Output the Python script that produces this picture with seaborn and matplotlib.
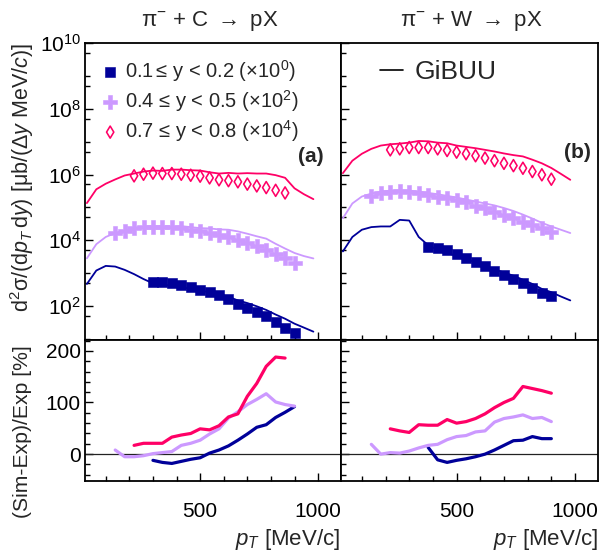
import numpy as np
import pandas as pd
import matplotlib
matplotlib.use("Agg")
import matplotlib.pyplot as plt
import seaborn as sns
from matplotlib.lines import Line2D
from matplotlib.ticker import FixedLocator, NullFormatter, FuncFormatter, MultipleLocator

sns.set_theme(style="ticks")
plt.rcParams["font.family"] = ["Liberation Sans", "DejaVu Sans"]
plt.rcParams["mathtext.fontset"] = "custom"
plt.rcParams["mathtext.rm"] = "Liberation Sans"
plt.rcParams["mathtext.it"] = "Liberation Sans:italic"
plt.rcParams["mathtext.bf"] = "Liberation Sans:bold"

NAVY = "#000099"
LILAC = "#cc99ff"
PINK = "#ff0066"

# ---------------------------------------------------------------- data
# rapidity bins and the factors used to separate them vertically
bin_labels = ["0.1$\\,$≤ y < 0.2 (×10$^{0}$)",
              "0.4 ≤ y < 0.5 (×10$^{2}$)",
              "0.7 ≤ y < 0.8 (×10$^{4}$)"]
bin_scale = [1.0, 1e2, 1e4]

# transverse momentum grid of the GiBUU calculation [MeV/c]
pt_sim = [20, 60, 100, 140, 180, 220, 260, 300, 340, 380, 420, 460, 500,
          540, 580, 620, 660, 700, 740, 780, 820, 860, 900, 940, 980]

# pi- + C -> pX : measured d2sigma/(dpT dy) [ub/(dy MeV/c)]
pt_C_y1 = [300, 340, 380, 420, 460, 500, 540, 580, 620, 660, 700, 740, 780,
           820, 860, 900]
xs_C_y1 = [556, 537, 501, 437, 372, 309, 263, 214, 166, 118, 89, 65, 48,
           32, 22, 15]
pt_C_y4 = [140, 180, 220, 260, 300, 340, 380, 420, 460, 500, 540, 580, 620,
           660, 700, 740, 780, 820, 860, 900]
xs_C_y4 = [166, 195, 229, 251, 257, 257, 245, 229, 209, 186, 166, 145, 123,
           102, 81, 65, 51, 39, 29, 21]
pt_C_y7 = [220, 260, 300, 340, 380, 420, 460, 500, 540, 580, 620, 660, 700,
           740, 780, 820, 860]
xs_C_y7 = [91, 102, 110, 107, 107, 102, 95, 89, 79, 69, 65, 60, 51, 45,
           40, 33, 27.5]

# pi- + C -> pX : GiBUU
sim_C_y1 = [468, 1202, 1660, 1585, 1259, 933, 661, 490, 452, 407, 372, 331,
            288, 269, 229, 191, 148, 123, 98, 76, 55, 41, 29, 22, 16.6]
sim_C_y4 = [28.2, 75.9, 126, 166, 186, 219, 245, 257, 263, 257, 269, 251,
            234, 229, 214, 209, 186, 158, 132, 112, 78, 56, 41, 33, 28]
sim_C_y7 = [13.5, 35.5, 52.5, 70.8, 93.3, 107, 123, 132, 129, 141, 141, 135,
            132, 117, 107, 112, 107, 110, 107, 107, 95.5, 79.4, 38, 25.1, 17.8]

# pi- + C -> pX : (Sim-Exp)/Exp [%]
rel_C_y1 = [-12, -16, -18, -14, -10, -7, 2, 8, 16, 27, 39, 52, 57, 71, 81, 92]
rel_C_y4 = [8, -5, -5, -3, 1, 3, 5, 17, 21, 27, 39, 49, 70, 82, 96, 106,
            117, 101, 96, 93]
rel_C_y7 = [17, 21, 21, 21, 33, 37, 40, 49, 47, 55, 72, 78, 112, 137, 170,
            188, 186]

# pi- + W -> pX : measured
pt_W_y1 = [380, 420, 460, 500, 540, 580, 620, 660, 700, 740, 780, 820, 860,
           900]
xs_W_y1 = [6026, 5754, 4898, 3890, 2884, 2239, 1660, 1202, 891, 661, 501,
           347, 257, 204]
pt_W_y4 = [140, 180, 220, 260, 300, 340, 380, 420, 460, 500, 540, 580, 620,
           660, 700, 740, 780, 820, 860, 900]
xs_W_y4 = [2239, 2692, 3020, 3162, 2951, 2692, 2399, 2138, 1905, 1622, 1413,
           1122, 955, 741, 589, 468, 372, 295, 234, 182]
pt_W_y7 = [220, 260, 300, 340, 380, 420, 460, 500, 540, 580, 620, 660, 700,
           740, 780, 820, 860, 900]
xs_W_y7 = [562, 603, 661, 661, 661, 603, 537, 479, 427, 372, 316, 263, 219,
           186, 155, 123, 98, 72]

# pi- + W -> pX : GiBUU
sim_W_y1 = [4571, 12589, 20893, 25119, 26303, 26303, 41687, 39811, 12589,
            7079, 5129, 4074, 3388, 2630, 2138, 1660, 1288, 1047, 832, 631,
            468, 331, 263, 195, 148]
sim_W_y4 = [468, 1318, 2138, 2630, 3020, 3236, 3311, 3236, 3020, 2754, 2512,
            2239, 1995, 1738, 1514, 1318, 1148, 955, 776, 603, 457, 339, 263,
            209, 166]
sim_W_y7 = [110, 263, 427, 603, 759, 832, 871, 933, 1047, 1023, 933, 891,
            759, 692, 631, 562, 501, 437, 389, 355, 282, 219, 158, 105, 69]

# pi- + W -> pX : (Sim-Exp)/Exp [%]
rel_W_y1 = [13, -11, -16, -12, -9, -5, 0, 8, 17, 26, 27, 34, 30, 30]
rel_W_y4 = [19, 0, 3, 2, 6, 12, 17, 19, 28, 34, 36, 43, 45, 62, 69, 72, 76,
            69, 71, 63]
rel_W_y7 = [49, 45, 42, 57, 56, 56, 67, 60, 63, 69, 78, 90, 100, 108, 131,
            127, 123, 118]

# ---------------------------------------------------------------- styles
colors = [NAVY, LILAC, PINK]
marker_kw = [
    dict(marker="s", s=58, color=NAVY, edgecolor=NAVY, linewidth=0.4),
    dict(marker="P", s=95, color=LILAC, edgecolor=LILAC, linewidth=0.4),
    dict(marker="d", s=38, color=PINK, facecolor="none", edgecolor=PINK,
         linewidth=1.15),
]

W, H = 602, 554
fig = plt.figure(figsize=(W / 100, H / 100), dpi=100)


def box(x0, y0, x1, y1):
    return [x0 / W, 1 - y1 / H, (x1 - x0) / W, (y1 - y0) / H]


ax_lt = fig.add_axes(box(85, 43, 341, 340))
ax_lb = fig.add_axes(box(85, 340, 341, 481))
ax_rt = fig.add_axes(box(341, 43, 598, 340))
ax_rb = fig.add_axes(box(341, 340, 598, 481))

XLIM = (12, 1097)


def style_axes(ax_top, ax_bot, show_labels):
    ax_top.set_yscale("log")
    for ax in (ax_top, ax_bot):
        ax.set_xlim(*XLIM)
        ax.xaxis.set_major_locator(FixedLocator([500, 1000]))
        ax.xaxis.set_minor_locator(MultipleLocator(100))
        ax.tick_params(axis="both", which="both", direction="in",
                       top=False, right=False, width=1.0, color="black",
                       labelsize=15, labelcolor="black")
        ax.tick_params(axis="both", which="major", length=6)
        ax.tick_params(axis="both", which="minor", length=3.6)
        for sp in ax.spines.values():
            sp.set_linewidth(1.3)
            sp.set_color("black")
        ax.set_xlabel("")
        ax.set_ylabel("")
    ax_top.set_ylim(9.25, 1e10)
    ax_top.yaxis.set_major_locator(FixedLocator([1e2, 1e4, 1e6, 1e8, 1e10]))
    ax_top.yaxis.set_minor_locator(FixedLocator(
        [10.0 ** k for k in (1, 3, 5, 7, 9)] +
        [5 * 10.0 ** k for k in range(0, 10)]))
    ax_top.yaxis.set_minor_formatter(NullFormatter())
    ax_top.yaxis.set_major_formatter(FuncFormatter(
        lambda v, p: "10$^{%d}$" % int(round(np.log10(v)))))
    ax_top.tick_params(axis="x", labelbottom=False)
    ax_bot.set_ylim(-52, 221)
    ax_bot.yaxis.set_major_locator(FixedLocator([0, 100, 200]))
    ax_bot.yaxis.set_minor_locator(MultipleLocator(20))
    ax_bot.tick_params(axis="x", which="major", pad=15)
    ax_top.tick_params(axis="y", which="major", pad=3)
    ax_bot.tick_params(axis="y", which="major", pad=3)
    if not show_labels:
        ax_top.tick_params(axis="y", labelleft=False)
        ax_bot.tick_params(axis="y", labelleft=False)


def draw(ax_top, ax_bot, exp_pt, exp_xs, sims, rels, with_labels):
    ax_top.set_yscale("log")
    for i in range(3):
        df_sim = pd.DataFrame({"pt": pt_sim,
                               "xs": np.asarray(sims[i]) * bin_scale[i]})
        sns.lineplot(data=df_sim, x="pt", y="xs", ax=ax_top, color=colors[i],
                     linewidth=1.3, legend=False, zorder=2)
    for i in range(3):
        df_exp = pd.DataFrame({"pt": exp_pt[i],
                               "xs": np.asarray(exp_xs[i]) * bin_scale[i]})
        kw = dict(marker_kw[i])
        if with_labels:
            kw["label"] = bin_labels[i]
        sns.scatterplot(data=df_exp, x="pt", y="xs", ax=ax_top, zorder=3,
                        legend=False, **kw)
    ax_bot.axhline(0, color="#222222", linewidth=0.9, zorder=1)
    for i in range(3):
        df_rel = pd.DataFrame({"pt": exp_pt[i], "rel": rels[i]})
        sns.lineplot(data=df_rel, x="pt", y="rel", ax=ax_bot, color=colors[i],
                     linewidth=2.3, legend=False, zorder=2)


draw(ax_lt, ax_lb, [pt_C_y1, pt_C_y4, pt_C_y7], [xs_C_y1, xs_C_y4, xs_C_y7],
     [sim_C_y1, sim_C_y4, sim_C_y7], [rel_C_y1, rel_C_y4, rel_C_y7], True)
draw(ax_rt, ax_rb, [pt_W_y1, pt_W_y4, pt_W_y7], [xs_W_y1, xs_W_y4, xs_W_y7],
     [sim_W_y1, sim_W_y4, sim_W_y7], [rel_W_y1, rel_W_y4, rel_W_y7], False)

style_axes(ax_lt, ax_lb, True)
style_axes(ax_rt, ax_rb, False)

# legends
h, l = ax_lt.get_legend_handles_labels()
ax_lt.legend(h, l, loc="upper left", bbox_to_anchor=(0.059, 0.95),
             frameon=False, fontsize=14.5, handlelength=1.0,
             handletextpad=0.25, labelspacing=0.2, borderaxespad=0,
             borderpad=0, scatterpoints=1)
ax_rt.legend([Line2D([], [], color="black", linewidth=1.2)], ["GiBUU"],
             loc="upper left", bbox_to_anchor=(0.152, 0.942), frameon=False,
             fontsize=19, handlelength=0.87, handletextpad=0.45,
             borderaxespad=0, borderpad=0)

# panel tags and titles
ax_lt.text(311 / W, 1 - 156 / H, "(a)", transform=fig.transFigure,
           ha="center", va="center", fontsize=15, fontweight="bold")
ax_rt.text(577 / W, 1 - 152 / H, "(b)", transform=fig.transFigure,
           ha="center", va="center", fontsize=15, fontweight="bold")
fig.text(210 / W, 1 - 21 / H, "π$^{-}$ + C $\\rightarrow$ pX", ha="center",
         va="center", fontsize=16)
fig.text(471 / W, 1 - 21 / H, "π$^{-}$ + W $\\rightarrow$ pX", ha="center",
         va="center", fontsize=16)

# axis titles
fig.text(22 / W, 1 - 43 / H,
         "d$^{2}$σ/(d$p_{T}\\,$d$y$) [μb/(Δ$y$ MeV/$c$)]",
         rotation=90, ha="center", va="top", fontsize=15.5)
fig.text(23 / W, 1 - 345 / H, "(Sim-Exp)/Exp [%]",
         rotation=90, ha="center", va="top", fontsize=15.2)
fig.text(598 / W - 258 / W, 1 - 540 / H, "$p_{T}$ [MeV/c]", ha="right",
         va="center", fontsize=16)
fig.text(598 / W, 1 - 540 / H, "$p_{T}$ [MeV/c]", ha="right", va="center",
         fontsize=16)

fig.savefig("out.png", dpi=100)
